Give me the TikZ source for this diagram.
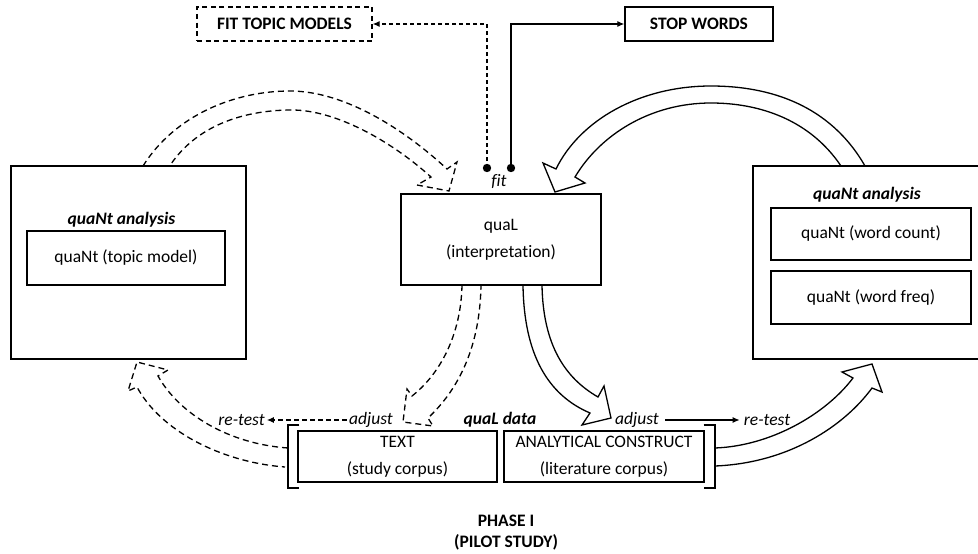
\documentclass[tikz,border=0pt]{standalone}
\usepackage{fontspec}
\setmainfont[Ligatures={NoCommon,NoContextual}]{Carlito}
\usetikzlibrary{arrows.meta,calc}
\begin{document}
\begin{tikzpicture}[x=1pt,y=-1pt,
  font=\fontsize{17.5}{27}\selectfont,
  box/.style={draw,line width=1.3pt,inner sep=0pt,align=center},
  dbox/.style={box,dash pattern=on 5pt off 3.5pt},
  lbl/.style={inner sep=2pt},
  blocks/.style={draw,line width=1.3pt,line join=miter},
  blockd/.style={blocks,dash pattern=on 6pt off 4pt},
  bracket/.style={line width=2.2pt},
  tip/.style={-{Latex[length=7pt,width=6pt]}},
  link/.style={line width=1.2pt}
]
\useasboundingbox (0,0) rectangle (978,554);
\fill[white] (0,0) rectangle (978,554);
\clip (0,0) rectangle (978,554);

% top boxes
\node[dbox,minimum width=175pt,minimum height=34pt] (fitbox) at (284.5,24) {\bfseries FIT TOPIC MODELS};
\node[box,minimum width=148pt,minimum height=34pt] (stopbox) at (699,24) {\bfseries STOP WORDS};

% central interpretation box
\node[box,minimum width=200pt,minimum height=91pt] (qual) at (501,239.5) {quaL\\(interpretation)};
\node[lbl] (fit) at (499,182) {\itshape fit};

% left analysis box
\node[box,minimum width=235pt,minimum height=193pt] (lbox) at (128.5,262.5) {};
\node[lbl] (ltitle) at (121.5,220) {\bfseries\itshape quaNt analysis};
\node[box,minimum width=198pt,minimum height=54pt] (topic) at (126,258) {quaNt (topic model)};

% right analysis box (runs off the right edge)
\node[box,minimum width=237pt,minimum height=193pt] (rbox) at (871.5,262.5) {};
\node[lbl] (rtitle) at (867,195) {\bfseries\itshape quaNt analysis};
\node[box,minimum width=200pt,minimum height=52pt] (count) at (871,234) {quaNt (word count)};
\node[box,minimum width=200pt,minimum height=53pt] (freq) at (871,297.5) {quaNt (word freq)};

% data boxes
\node[box,minimum width=199pt,minimum height=51pt] (tbox) at (397.5,456.5) {TEXT\\(study corpus)};
\node[box,minimum width=200pt,minimum height=51pt] (abox) at (604,456.5) {ANALYTICAL CONSTRUCT\\(literature corpus)};
\draw[bracket] ($(tbox.north west)+(2,-5)$) -| ($(tbox.south west)+(-9,5)$) -- ($(tbox.south west)+(2,5)$);
\draw[bracket] ($(abox.north east)+(-1,-5)$) -| ($(abox.south east)+(10,5)$) -- ($(abox.south east)+(-1,5)$);
\node[lbl] (qdata) at (500,420) {\bfseries\itshape quaL data};

% adjust / re-test labels
\node[lbl] (adjL) at (371,420) {\itshape adjust};
\node[lbl] (retL) at (241.5,420) {\itshape re-test};
\node[lbl] (adjR) at (637,420) {\itshape adjust};
\node[lbl] (retR) at (767,420) {\itshape re-test};
\draw[link,dash pattern=on 5pt off 3pt,tip] (adjL.west) -- (retL.east);
\draw[link,tip,shorten >=2pt,shorten <=4pt] (adjR.east) -- (retR.west);

% phase caption
\node[lbl,align=center,font=\fontsize{17.5}{21}\selectfont\bfseries] (phase) at (506,533) {PHASE I\\(PILOT STUDY)};

% fit connectors
\coordinate (dA) at (487,168);
\coordinate (dB) at (511,168);
\fill (dA) circle (4.2);
\fill (dB) circle (4.2);
\draw[link,dash pattern=on 4pt off 3pt,tip] (dA) |- (fitbox.east);
\draw[link,tip] (dB) |- (stopbox.west);

% block arrows
% left box -> interpretation (dashed)
\draw[blockd] (143,166) .. controls (175,115) and (235,91) .. (290,91)
  .. controls (345,91) and (405,130) .. (447,169) -- (457,162) -- (449,191) -- (417,185) -- (431,177)
  .. controls (390,140) and (335,110) .. (292,110) .. controls (250,110) and (200,122) .. (171,164);
% interpretation -> text (dashed)
\draw[blockd] (462,285) .. controls (461,335) and (440,374) .. (412,396) -- (407,389) -- (403,422) -- (433,426) -- (428,418)
  .. controls (460,388) and (480,345) .. (481,285);
% interpretation -> analytical construct
\draw[blocks] (542,285) .. controls (543,345) and (565,378) .. (598,397) -- (604,386) -- (611,418) -- (582,425) -- (590,413)
  .. controls (548,395) and (524,355) .. (523,285);
% text -> left box (dashed)
\draw[blockd] (288,448) .. controls (230,444) and (180,415) .. (158,376) -- (168,370) -- (137,362) -- (128,391) -- (137,387)
  .. controls (160,430) and (220,462) .. (285,467);
% analytical construct -> right box
\draw[blocks] (715,448) .. controls (770,446) and (825,415) .. (853,378) -- (842,372) -- (872,364) -- (882,392) -- (872,388)
  .. controls (845,425) and (790,463) .. (715,466);
% right box -> interpretation
\draw[blocks] (865,166) .. controls (830,105) and (770,86) .. (711,86)
  .. controls (640,86) and (580,120) .. (556,169) -- (543,163) -- (555,192) -- (585,183) -- (575,177)
  .. controls (600,135) and (650,103) .. (711,103) .. controls (760,103) and (810,120) .. (841,166);
\end{tikzpicture}
\end{document}
